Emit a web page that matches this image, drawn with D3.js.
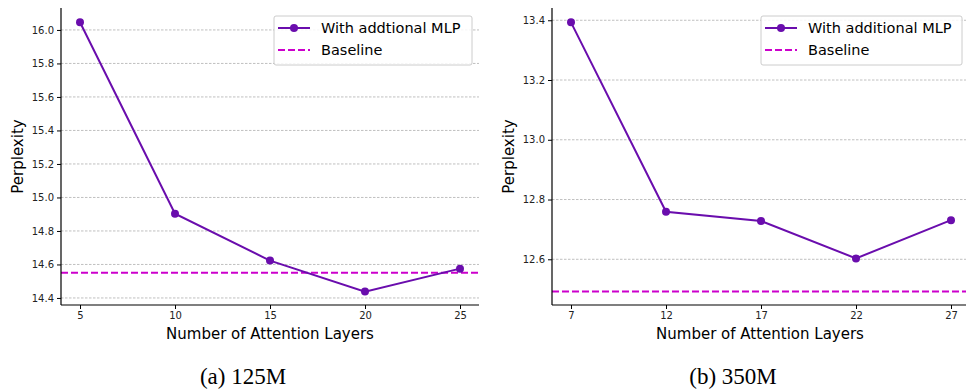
<!DOCTYPE html>
<html><head><meta charset="utf-8">
<script src="https://cdn.jsdelivr.net/npm/d3@7"></script>
<style>body{margin:0;background:#fff;} svg{display:block;}</style>
</head><body>
<svg id="c" width="966" height="391"></svg>
<script>
// Data
const layersA = [5, 10, 15, 20, 25];
const pplA = [16.046, 14.903, 14.623, 14.438, 14.575];
const baselineA = 14.55;
const yTicksA = [14.4, 14.6, 14.8, 15.0, 15.2, 15.4, 15.6, 15.8, 16.0];
const legendA = ["With addtional MLP", "Baseline"];
const captionA = "(a) 125M";

const layersB = [7, 12, 17, 22, 27];
const pplB = [13.393, 12.759, 12.728, 12.603, 12.731];
const baselineB = 12.492;
const yTicksB = [12.6, 12.8, 13.0, 13.2, 13.4];
const legendB = ["With additional MLP", "Baseline"];
const captionB = "(b) 350M";

const xLabel = "Number of Attention Layers";
const yLabel = "Perplexity";

const svg = d3.select("#c");
const lineColor = "#6a0dad";
const baseColor = "#cc00cc";
const font = "DejaVu Sans, sans-serif";

function panel(o) {
  const g = svg.append("g");
  const x = d3.scaleLinear().domain(o.xDom).range([o.left, o.right]);
  const y = d3.scaleLinear().domain(o.yDom).range([o.bottom, o.top]);
  // grid
  g.append("g").selectAll("line").data(o.yTicks).join("line")
    .attr("x1", o.left).attr("x2", o.right)
    .attr("y1", d => y(d)).attr("y2", d => y(d))
    .attr("stroke", "#b0b0b0").attr("stroke-width", 0.8).attr("stroke-dasharray", "2.5,1.5");
  // baseline
  g.append("line").attr("x1", o.left).attr("x2", o.right)
    .attr("y1", y(o.baseline)).attr("y2", y(o.baseline))
    .attr("stroke", baseColor).attr("stroke-width", 2).attr("stroke-dasharray", "7,3");
  // line
  const pts = o.xs.map((d, i) => [d, o.ys[i]]);
  g.append("path").datum(pts)
    .attr("d", d3.line().x(d => x(d[0])).y(d => y(d[1])))
    .attr("fill", "none").attr("stroke", lineColor).attr("stroke-width", 2);
  g.append("g").selectAll("circle").data(pts).join("circle")
    .attr("cx", d => x(d[0])).attr("cy", d => y(d[1])).attr("r", 4)
    .attr("fill", lineColor);
  // axes
  const ya = d3.axisLeft(y).tickValues(o.yTicks).tickFormat(d3.format(".1f")).tickSize(4).tickPadding(3);
  const yg = g.append("g").attr("transform", `translate(${o.left},0)`).call(ya);
  yg.select(".domain").attr("d", `M0,${o.top}V${o.bottom}`).attr("stroke", "#000").attr("stroke-width", 1.2);
  yg.selectAll("text").attr("font-family", font).attr("font-size", 10).attr("fill", "#222");
  const xa = d3.axisBottom(x).tickValues(o.xs).tickFormat(d3.format("d")).tickSize(4).tickPadding(3);
  const xg = g.append("g").attr("transform", `translate(0,${o.bottom})`).call(xa);
  xg.select(".domain").attr("d", `M${o.left},0H${o.right}`).attr("stroke", "#000").attr("stroke-width", 1.2);
  xg.selectAll("text").attr("font-family", font).attr("font-size", 10).attr("fill", "#222");
  // labels
  g.append("text").attr("x", o.xLabX).attr("y", 339)
    .attr("text-anchor", "middle").attr("font-family", font).attr("font-size", 15).text(xLabel);
  g.append("text").attr("transform", `translate(${o.left - 38},${(o.top + o.bottom) / 2}) rotate(-90)`)
    .attr("text-anchor", "middle").attr("font-family", font).attr("font-size", 15).text(yLabel);
  g.append("text").attr("x", o.capX).attr("y", 384)
    .attr("text-anchor", "middle").attr("font-family", "Liberation Serif, Times New Roman, serif").attr("font-size", 23).text(o.caption);
  // legend
  const lg = g.append("g");
  lg.append("rect").attr("x", o.legX).attr("y", 16).attr("width", o.legW).attr("height", 49)
    .attr("rx", 2).attr("fill", "#fff").attr("fill-opacity", 0.85).attr("stroke", "#ccc").attr("stroke-width", 1);
  lg.append("line").attr("x1", o.legX + 4).attr("x2", o.legX + 36).attr("y1", 28).attr("y2", 28)
    .attr("stroke", lineColor).attr("stroke-width", 2);
  lg.append("circle").attr("cx", o.legX + 20).attr("cy", 28).attr("r", 4).attr("fill", lineColor);
  lg.append("line").attr("x1", o.legX + 4).attr("x2", o.legX + 36).attr("y1", 50).attr("y2", 50)
    .attr("stroke", baseColor).attr("stroke-width", 2).attr("stroke-dasharray", "7,3");
  lg.append("text").attr("x", o.legX + 47).attr("y", 33).attr("font-family", font).attr("font-size", 14.5).text(o.legend[0]);
  lg.append("text").attr("x", o.legX + 47).attr("y", 55).attr("font-family", font).attr("font-size", 14.5).text(o.legend[1]);
}

panel({xs: layersA, ys: pplA, baseline: baselineA, yTicks: yTicksA, legend: legendA, caption: captionA,
  xDom: [4, 26], yDom: [14.358, 16.131], left: 61, right: 479, top: 8, bottom: 305,
  capX: 243, xLabX: 270, legX: 274, legW: 198});
panel({xs: layersB, ys: pplB, baseline: baselineB, yTicks: yTicksB, legend: legendB, caption: captionB,
  xDom: [6, 28], yDom: [12.447, 13.441], left: 552, right: 970, top: 8, bottom: 305,
  capX: 733, xLabX: 760, legX: 761, legW: 201});
</script>
</body></html>
